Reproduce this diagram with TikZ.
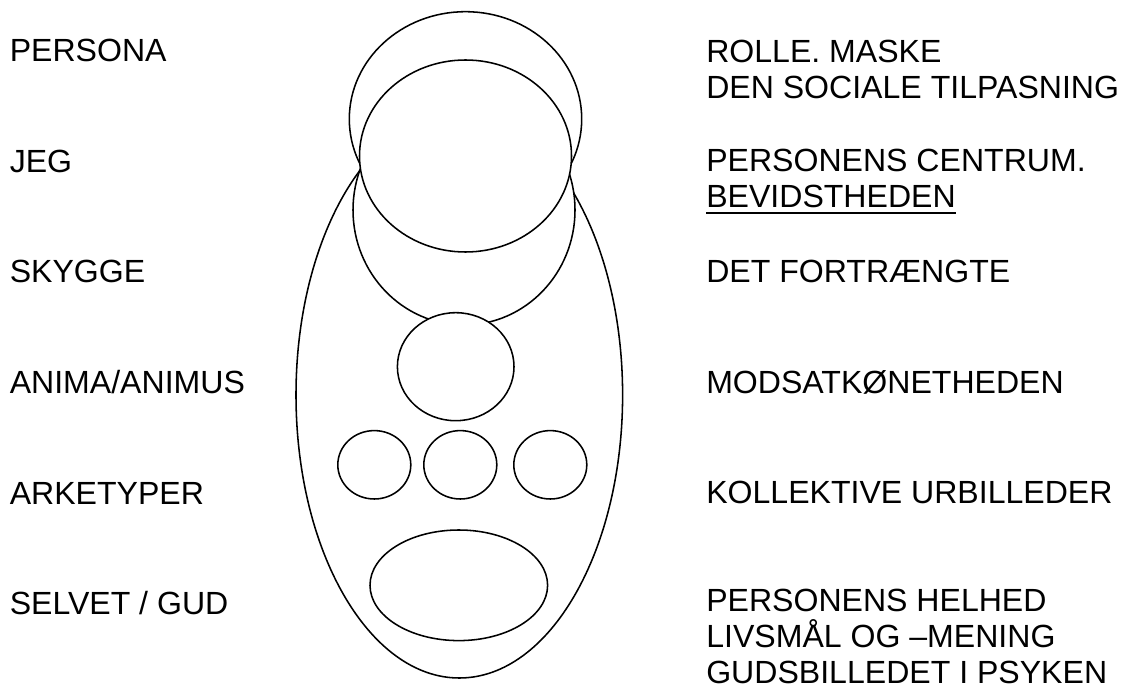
\documentclass[tikz,border=0pt]{standalone}
\usepackage{fontspec}
\setmainfont{Liberation Sans}
\newcommand{\lblfont}{\fontsize{22.8}{25.6}\selectfont}

\begin{document}
\begin{tikzpicture}[x=0.025cm, y=-0.025cm,
        psyche/.style={draw, fill=white, line width=1.1pt},
        lbl/.style={anchor=base west, inner sep=0pt, font=\lblfont}]
    \useasboundingbox (0,0) rectangle (1123,688);

    % the whole psyche and its parts, drawn back to front
    \draw[psyche] (459.3,395) ellipse [x radius=163.3, y radius=283];
    \draw[psyche] (465.5,119) ellipse [x radius=116.2, y radius=107.3];
    \draw[psyche] (464,210) ellipse [x radius=111, y radius=115];
    \draw[psyche] (465.5,156) ellipse [x radius=106, y radius=96];
    \draw[psyche] (455.7,366.7) ellipse [x radius=58.3, y radius=54];
    \foreach \cx in {374.3, 460.3, 550.3}
        \draw[psyche] (\cx,464.8) ellipse [x radius=36.5, y radius=34.2];
    \draw[psyche] (458.8,585.3) ellipse [x radius=88.8, y radius=55.3];

    % names
    \node[lbl] (persona) at (9.5,62) {PERSONA};
    \node[lbl] (jeg) at (9.5,173) {JEG};
    \node[lbl] (skygge) at (9.5,283) {SKYGGE};
    \node[lbl] (anima) at (9.5,393.5) {ANIMA/ANIMUS};
    \node[lbl] (arketyper) at (9.5,504) {ARKETYPER};
    \node[lbl] (selvet) at (9.5,614) {SELVET / GUD};

    % meanings
    \node[lbl] (rolle) at (706,62.7) {ROLLE. MASKE};
    \node[lbl] (tilpas) at (706,99) {DEN SOCIALE TILPASNING};
    \node[lbl] (centrum) at (706,171.7) {PERSONENS CENTRUM.};
    \node[lbl] (bevid) at (706,207.7) {BEVIDSTHEDEN};
    \draw[line width=1.3pt] ([yshift=-0.125cm]bevid.base west) -- ([yshift=-0.125cm]bevid.base east);
    \node[lbl] (fortraengt) at (706,282.7) {DET FORTRÆNGTE};
    \node[lbl] (modsat) at (706,393.3) {MODSATKØNETHEDEN};
    \node[lbl] (urbilleder) at (706,503.3) {KOLLEKTIVE URBILLEDER};
    \node[lbl] (helhed) at (706,611) {PERSONENS HELHED};
    \node[lbl] (livsmaal) at (706,647) {LIVSMÅL OG –MENING};
    \node[lbl] (gudsbillede) at (706,683) {GUDSBILLEDET I PSYKEN};
\end{tikzpicture}
\end{document}
